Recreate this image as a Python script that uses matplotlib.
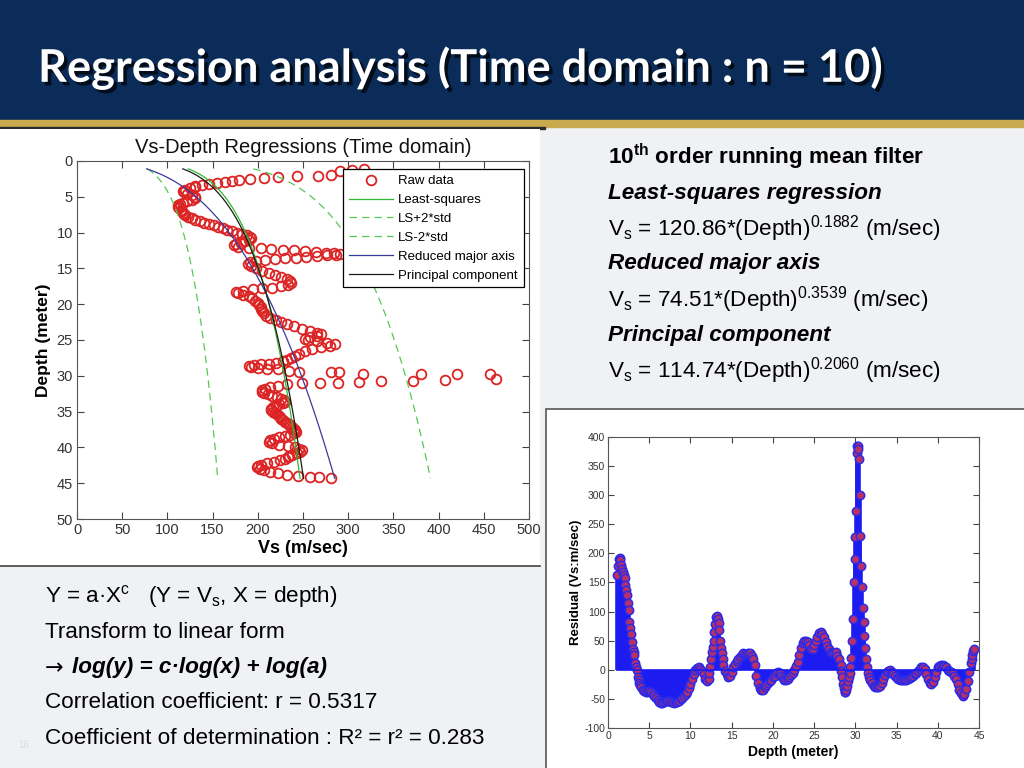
import numpy as np
import matplotlib
matplotlib.use('Agg')
import matplotlib.pyplot as plt
import matplotlib.patheffects as pe
from matplotlib.patches import Rectangle

plt.rcParams['font.family'] = ['Liberation Sans', 'DejaVu Sans']
plt.rcParams['mathtext.fontset'] = 'custom'
plt.rcParams['mathtext.rm'] = 'Liberation Sans'
plt.rcParams['mathtext.it'] = 'Liberation Sans:italic'
plt.rcParams['mathtext.bf'] = 'Liberation Sans:bold'
plt.rcParams['axes.unicode_minus'] = False

# ---- data: filtered Vs profile (depth in m, Vs in m/s) ----
raw_depth = [1.1, 1.2, 1.35, 2.0, 2.05, 2.15, 2.3, 2.4, 2.55, 2.7, 2.85, 2.95, 3.1, 3.25, 3.4, 3.5,
             3.6, 3.8, 4.0, 4.2, 4.4, 4.6, 4.8, 5.0, 5.2, 5.4, 5.6, 5.8, 6.0, 6.2, 6.4, 6.6, 6.8, 7.0, 7.2, 7.4,
             7.6, 7.8, 8.0, 8.2, 8.4, 8.6, 8.8, 9.0, 9.2, 9.4, 9.6, 9.8, 10.0, 10.2, 10.4, 10.6, 10.8, 11.0, 11.2, 11.4,
             11.6, 11.8, 12.0,
             12.1, 12.2, 12.3, 12.4, 12.5, 12.6, 12.7, 12.8, 12.9, 13.0, 13.1, 13.2, 13.3, 13.4, 13.5, 13.6, 13.7, 13.8, 13.9, 14.1, 14.4, 14.7,
             15.0, 15.3, 15.6, 15.9, 16.2, 16.5, 16.8, 17.1, 17.3, 17.5, 17.7, 17.8, 17.9, 18.1, 18.3, 18.5, 18.7, 18.9, 19.2, 19.5,
             19.8, 20.1, 20.4, 20.7, 21.0, 21.3, 21.6, 21.9, 22.2, 22.5, 22.8, 23.1, 23.4, 23.7, 24.0, 24.2, 24.4, 24.6, 24.8, 25.0,
             25.2, 25.4, 25.6, 25.8, 26.0, 26.3, 26.6, 26.9, 27.2, 27.5, 27.8, 28.0, 28.2, 28.3, 28.4, 28.5, 28.6, 28.8, 28.9, 29.0,
             29.1, 29.3, 29.4,
             29.4, 29.4, 29.7, 29.8, 29.8, 29.8, 30.5, 30.6, 30.7, 30.7, 30.8, 31.0, 31.0, 31.0, 31.2,
             31.4, 31.6, 31.8, 32.0, 32.2, 32.4, 32.6, 32.8, 33.0, 33.2, 33.4, 33.6, 33.8, 34.0, 34.2, 34.4, 34.6, 34.8, 35.0, 35.2,
             35.4, 35.6, 35.8, 36.0, 36.2, 36.4, 36.6, 36.8, 37.0, 37.2, 37.4, 37.6, 37.8, 38.0, 38.2, 38.4, 38.6, 38.8, 39.0, 39.2,
             39.4, 39.6, 39.8, 40.0, 40.2, 40.4, 40.6, 40.8, 41.0, 41.2, 41.4, 41.6, 41.8, 42.0, 42.2, 42.4, 42.6, 42.8, 43.0, 43.2,
             43.4, 43.6, 43.8, 44.0, 44.1, 44.2, 44.3]
raw_vs = [318, 304, 291, 281, 267, 243, 222, 207, 191, 179, 171, 164, 155, 146, 138, 131,
          130, 125, 120, 117, 118, 122, 127, 131, 131, 127, 122, 117, 114, 112, 112, 113, 115, 116, 117, 118,
          120, 123, 127, 131, 136, 141, 146, 151, 156, 161, 166, 171, 177, 183, 188, 191, 192, 190, 186, 181,
          176, 174, 178,
          190, 203, 215, 228, 240, 252, 264, 275, 284, 291, 286, 276, 265, 253, 242, 230, 219, 208, 198, 191, 189, 192,
          198, 205, 212, 219, 226, 232, 236, 237, 233, 226, 216, 205, 195, 184, 176, 178, 184, 190, 194, 197,
          200, 201, 203, 204, 205, 207, 209, 214, 220, 226, 232, 240, 249, 258, 266, 270, 266, 258, 252, 256,
          266, 277, 285, 280, 270, 260, 252, 246, 241, 237, 232, 228, 220, 212, 204, 196, 190, 192, 200, 210,
          222, 235, 246,
          281, 290, 316, 380, 420, 457, 463, 407, 372, 336, 312, 289, 269, 249, 232,
          222, 214, 208, 205, 205, 207, 211, 216, 221, 226, 229, 230, 228, 224, 220, 217, 215, 215, 217, 219,
          221, 223, 225, 226, 228, 230, 232, 234, 236, 238, 240, 241, 242, 240, 236, 230, 224, 218, 213, 212,
          216, 224, 233, 241, 246, 249, 247, 243, 238, 235, 233, 230, 225, 218, 210, 204, 200, 199, 202, 207,
          214, 222, 232, 245, 258, 268, 281]

# regression models Vs = a * depth^c
ls_a, ls_c = 120.86, 0.1882
rma_a, rma_c = 74.51, 0.3539
pc_a, pc_c = 114.74, 0.2060
ls_log_std = 0.1   # std of log10 residual

# ---- residuals ----
res_depth = [1.1, 1.2, 1.3, 1.4, 1.5, 1.6, 1.7, 1.8, 1.9, 2.0,
             2.1, 2.2, 2.3, 2.4, 2.5, 2.6, 2.7, 2.8, 2.9, 3.0,
             3.1, 3.2, 3.3, 3.4, 3.5, 3.6, 3.7, 3.8, 3.9, 4.0,
             4.2, 4.4, 4.6, 4.8, 5.0, 5.2, 5.4, 5.6, 5.8, 6.0,
             6.2, 6.4, 6.6, 6.8, 7.0, 7.2, 7.4, 7.6, 7.8, 8.0,
             8.2, 8.4, 8.6, 8.8, 9.0, 9.2, 9.4, 9.6, 9.8, 10.0,
             10.2, 10.4, 10.6, 10.8, 11.0, 11.2, 11.4, 11.6, 11.8, 12.0,
             12.2, 12.3, 12.4, 12.5, 12.6, 12.7, 12.8, 12.9, 13.0, 13.1,
             13.2, 13.3, 13.4, 13.5, 13.6, 13.7, 13.8, 13.9, 14.0, 14.2,
             14.4, 14.6, 14.8, 15.0, 15.2, 15.4, 15.6, 15.8, 16.0, 16.2,
             16.4, 16.6, 16.8, 17.0, 17.2, 17.4, 17.6, 17.8, 18.0, 18.2,
             18.4, 18.6, 18.8, 19.0, 19.2, 19.4, 19.6, 19.8, 20.0, 20.2,
             20.4, 20.6, 20.8, 21.0, 21.2, 21.4, 21.6, 21.8, 22.0, 22.2,
             22.4, 22.6, 22.8, 23.0, 23.2, 23.4, 23.6, 23.8, 24.0, 24.2,
             24.4, 24.6, 24.8, 25.0, 25.2, 25.4, 25.6, 25.8, 26.0, 26.2,
             26.4, 26.6, 26.8, 27.0, 27.2, 27.4, 27.6, 27.8, 28.0, 28.2,
             28.3, 28.4, 28.5, 28.6, 28.7, 28.8, 28.9, 29.0, 29.1, 29.2,
             29.3, 29.4, 29.5, 29.6, 29.7, 29.8, 29.9, 30.0, 30.1, 30.2,
             30.25, 30.3, 30.35, 30.4, 30.5, 30.6, 30.7, 30.8, 30.9, 31.0,
             31.1, 31.2, 31.3, 31.4, 31.5, 31.6, 31.8, 32.0, 32.2, 32.4,
             32.6, 32.8, 33.0, 33.2, 33.4, 33.6, 33.8, 34.0, 34.2, 34.4,
             34.6, 34.8, 35.0, 35.2, 35.4, 35.6, 35.8, 36.0, 36.2, 36.4,
             36.6, 36.8, 37.0, 37.2, 37.4, 37.6, 37.8, 38.0, 38.2, 38.4,
             38.6, 38.8, 39.0, 39.2, 39.4, 39.6, 39.8, 40.0, 40.2, 40.4,
             40.6, 40.8, 41.0, 41.2, 41.4, 41.6, 41.8, 42.0, 42.2, 42.4,
             42.6, 42.8, 43.0, 43.2, 43.4, 43.6, 43.8, 44.0, 44.1, 44.2,
             44.3, 44.4]
res_val = [163, 178, 190, 192, 188, 180, 174, 168, 163, 158,
           145, 137, 128, 115, 103, 82, 72, 62, 47, 35,
           30, 25, 12, 5, 0, -12, -17, -22, -26, -30,
           -34, -37, -38, -38, -37, -39, -42, -45, -49, -52,
           -55, -57, -57, -56, -54, -53, -54, -55, -56, -57,
           -56, -55, -53, -50, -48, -45, -42, -38, -32, -24,
           -15, -7, -1, 3, 4, 2, -2, -8, -15, -20,
           -15, -5, 5, 18, 30, 40, 50, 65, 78, 90,
           93, 88, 80, 68, 50, 38, 28, 18, 8, -2,
           -8, -12, -10, -4, 5, 10, 15, 18, 22, 26,
           28, 27, 27, 28, 28, 24, 18, 8, -10, -22,
           -32, -35, -34, -30, -26, -22, -19, -17, -13, -10,
           -5, -3, -5, -10, -14, -17, -18, -16, -13, -9,
           -5, 0, 6, 13, 25, 38, 46, 50, 50, 48,
           42, 35, 36, 42, 50, 57, 63, 65, 61, 56,
           48, 41, 35, 30, 28, 29, 30, 24, 18, 8,
           -2, -12, -25, -32, -38, -39, -35, -28, -20, -12,
           -5, 5, 20, 50, 88, 150, 190, 228, 272, 372,
           385, 385, 380, 362, 300, 230, 178, 143, 106, 82,
           58, 38, 18, 5, -5, -12, -18, -23, -27, -29,
           -30, -30, -27, -22, -15, -9, -4, -2, -1, -4,
           -8, -11, -14, -16, -18, -18, -18, -18, -17, -16,
           -14, -12, -10, -8, -6, -2, 2, 5, 5, 1,
           -8, -16, -23, -25, -21, -13, -4, 4, 7, 8,
           8, 7, 4, 0, -2, -3, -5, -10, -16, -25,
           -34, -40, -45, -42, -33, -20, -4, 12, 19, 25,
           32, 35]

title = 'Regression analysis (Time domain : n = 10)'

fig = plt.figure(figsize=(10.24, 7.68), dpi=100)
fig.patch.set_facecolor('#eff1f4')

# slide background in pixel coordinates
bg = fig.add_axes([0, 0, 1, 1], zorder=0)
bg.set_xlim(0, 1024)
bg.set_ylim(768, 0)
bg.axis('off')
bg.add_patch(Rectangle((0, 0), 1024, 120, color='#0b2c58'))
bg.add_patch(Rectangle((0, 120), 1024, 7, color='#c9aa4e'))
bg.add_patch(Rectangle((0, 127), 545, 2, color='#2a2a2a'))
bg.add_patch(Rectangle((0, 129), 540, 437, facecolor='white', edgecolor='none'))
bg.plot([0, 540], [566, 566], color='#444444', lw=1.2)
bg.add_patch(Rectangle((546, 409), 480, 362, facecolor='white', edgecolor='#555555', lw=1.2))

bg.text(38, 68, title, fontsize=32.5, family='Lato', fontweight='bold', color='white', va='center',
        path_effects=[pe.withSimplePatchShadow(offset=(2.5, -2.5), shadow_rgbFace='black', alpha=0.7)])

# right-top text block
rt = [(157, r'10$^{\mathbf{th}}$ order running mean filter', 'bold', 'normal'),
      (193, 'Least-squares regression', 'bold', 'italic'),
      (229, r'V$_{\mathrm{s}}$ = 120.86*(Depth)$^{\mathrm{0.1882}}$ (m/sec)', 'normal', 'normal'),
      (264, 'Reduced major axis', 'bold', 'italic'),
      (300, r'V$_{\mathrm{s}}$ = 74.51*(Depth)$^{\mathrm{0.3539}}$ (m/sec)', 'normal', 'normal'),
      (335, 'Principal component', 'bold', 'italic'),
      (371, r'V$_{\mathrm{s}}$ = 114.74*(Depth)$^{\mathrm{0.2060}}$ (m/sec)', 'normal', 'normal')]
for y, s, w, st in rt:
    bg.text(608, y, s, fontsize=16.2, fontweight=w, fontstyle=st, color='black', va='center')

# bottom-left text block
bl = [(597, r'Y = a·X$^{\mathrm{c}}$   (Y = V$_{\mathrm{s}}$, X = depth)', 'normal', 'normal'),
      (632, 'Transform to linear form', 'normal', 'normal'),
      (703, 'Correlation coefficient: r = 0.5317', 'normal', 'normal'),
      (739, 'Coefficient of determination : R² = r² = 0.283', 'normal', 'normal')]
for y, s, w, st in bl:
    bg.text(45, y, s, fontsize=16.2, fontweight=w, fontstyle=st, color='black', va='center')
bg.text(45, 668, '→', fontsize=16, family='DejaVu Sans', color='black', va='center')
bg.text(72, 668, 'log(y) = c·log(x) + log(a)', fontsize=16.2, fontweight='bold', fontstyle='italic',
        color='black', va='center')
bg.text(18, 745, '16', fontsize=7, color='#dcdcdc', va='center')

# ---- left chart: Vs vs depth ----
ax1 = fig.add_axes([0.0752, 0.3242, 0.4414, 0.4662], zorder=2)
d_fit = np.linspace(min(raw_depth), max(raw_depth), 200)
ls_fit = ls_a * d_fit ** ls_c
ax1.plot(raw_vs, raw_depth, 'o', mfc='none', mec='#dc2424', ms=7, mew=1.3, label='Raw data')
ax1.plot(ls_fit, d_fit, '-', color='#2fb82f', lw=0.9, label='Least-squares')
ax1.plot(ls_fit * 10 ** (2 * ls_log_std), d_fit, '--', color='#55c855', lw=0.9, dashes=(6, 4), label='LS+2*std')
ax1.plot(ls_fit * 10 ** (-2 * ls_log_std), d_fit, '--', color='#55c855', lw=0.9, dashes=(6, 4), label='LS-2*std')
ax1.plot(rma_a * d_fit ** rma_c, d_fit, '-', color='#3a3a9a', lw=0.9, label='Reduced major axis')
ax1.plot(pc_a * d_fit ** pc_c, d_fit, '-', color='#1a1a1a', lw=0.9, label='Principal component')
ax1.set_xlim(0, 500)
ax1.set_ylim(50, 0)
ax1.set_xticks(range(0, 501, 50))
ax1.set_yticks(range(0, 51, 5))
ax1.tick_params(direction='in', top=True, right=True, length=5, labelsize=10.5,
                labelcolor='#333333', color='#444444', pad=3)
for sp in ax1.spines.values():
    sp.set_color('#555555')
ax1.set_title('Vs-Depth Regressions (Time domain)', fontsize=14.5, pad=6, color='#111111')
ax1.set_xlabel('Vs (m/sec)', fontsize=13, fontweight='bold', labelpad=2)
ax1.set_ylabel('Depth (meter)', fontsize=12.5, fontweight='bold', labelpad=4)
leg = ax1.legend(loc='upper right', bbox_to_anchor=(0.988, 0.977), borderaxespad=0,
                 fontsize=9.5, frameon=True, fancybox=False, framealpha=1, edgecolor='black',
                 handlelength=3.3, labelspacing=0.5, borderpad=0.45, handletextpad=0.4)
leg.get_frame().set_linewidth(0.9)

# ---- right chart: residual stem plot ----
ax2 = fig.add_axes([0.5938, 0.0521, 0.3623, 0.3789], zorder=2)
markerline, stemlines, baseline = ax2.stem(res_depth, res_val, basefmt='-')
plt.setp(stemlines, color='#1c1cf0', linewidth=2.6)
plt.setp(markerline, marker='o', markersize=6, markerfacecolor='#b83068',
         markeredgecolor='#2a2ae8', markeredgewidth=1.1)
plt.setp(baseline, color='#1c1cf0', linewidth=1.2)
ax2.set_xlim(0, 45)
ax2.set_ylim(-100, 400)
ax2.set_xticks(range(0, 46, 5))
ax2.set_yticks(range(-100, 401, 50))
ax2.tick_params(direction='in', top=True, right=True, length=4, labelsize=7.5,
                labelcolor='#333333', color='#444444', pad=2)
for sp in ax2.spines.values():
    sp.set_color('#555555')
ax2.set_xlabel('Depth (meter)', fontsize=10, fontweight='bold', labelpad=3)
ax2.set_ylabel('Residual (Vs:m/sec)', fontsize=9.5, fontweight='bold', labelpad=2)

fig.savefig('out.png', dpi=100, facecolor=fig.get_facecolor())
